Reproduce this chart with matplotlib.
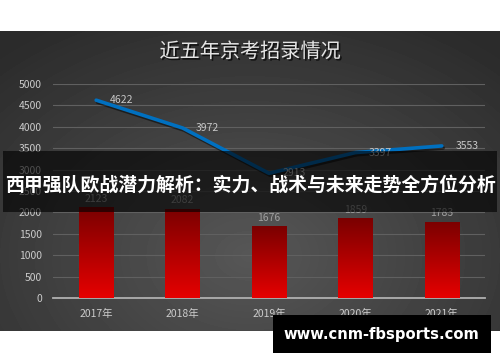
import numpy as np
import matplotlib.pyplot as plt
import matplotlib.patheffects as pe
from matplotlib.patches import Rectangle
from matplotlib.colors import LinearSegmentedColormap

plt.rcParams['font.family'] = ['Noto Sans CJK SC', 'DejaVu Sans']

# 数据
years = ['2017年', '2018年', '2019年', '2020年', '2021年']
recruit = [2123, 2082, 1676, 1859, 1783]
applicants = [4622, 3972, 2913, 3397, 3553]
yticks = [0, 500, 1000, 1500, 2000, 2500, 3000, 3500, 4000, 4500, 5000]

banner = '西甲强队欧战潜力解析：实力、战术与未来走势全方位分析'
site = 'www.cnm-fbsports.com'

W, H = 500, 362
fig = plt.figure(figsize=(W / 100, H / 100), dpi=100)
fig.patch.set_facecolor('white')

# 深色背景（径向渐变）
bg = fig.add_axes([0, (H - 331) / H, 1, 300 / H])
yy, xx = np.mgrid[0:1:300j, 0:1:500j]
r = np.sqrt(((xx - 0.5) / 0.75) ** 2 + ((yy - 0.75) / 0.9) ** 2)
shade = 0.34 - 0.17 * np.clip(r, 0, 1)
bg.imshow(shade, cmap='gray', vmin=0, vmax=1, aspect='auto', extent=[0, 1, 0, 1])
bg.set_axis_off()

# 标题
bg.text(0.5, 1 - 21 / 300, '近五年京考招录情况', ha='center', va='center',
        fontsize=14.5, color='#e6e6e6', transform=bg.transAxes,
        path_effects=[pe.withSimplePatchShadow(offset=(1.2, -1.2), shadow_rgbFace='black', alpha=0.7)])

ax = fig.add_axes([53 / W, (H - 298) / H, 432 / W, 214 / H])
ax.set_facecolor('none')
x = np.arange(len(years))

# 柱子（红色渐变）
bars = ax.bar(x, recruit, width=0.4, color='#c00000', zorder=2)
grad = np.linspace(0, 1, 256).reshape(-1, 1)
cm = LinearSegmentedColormap.from_list('red', ['#e60000', '#7a0000'])
for b in bars:
    bx, by, bw, bh = b.get_x(), b.get_y(), b.get_width(), b.get_height()
    im = ax.imshow(grad, cmap=cm, aspect='auto', origin='lower',
                   extent=[bx, bx + bw, by, by + bh], zorder=3)
    im.set_clip_path(b)

for xi, v in zip(x, recruit):
    ax.text(xi, v + 80, str(v), ha='center', va='bottom', fontsize=7.5,
            color='#a0a0a0', zorder=5)

# 折线
ax.plot(x, applicants, color='#0070c0', lw=2.6, zorder=4, solid_capstyle='round',
        path_effects=[pe.SimpleLineShadow(offset=(1, -1.5), shadow_color='black', alpha=0.5), pe.Normal()])
for xi, v in zip(x, applicants):
    ax.text(xi + 0.29, v, str(v), ha='center', va='center', fontsize=7.5,
            color='#c8c8c8', zorder=5)

ax.set_xlim(-0.5, len(years) - 0.5)
ax.set_ylim(0, 5000)
ax.set_yticks(yticks)
ax.set_xticks(x)
ax.set_xticklabels(years)
ax.grid(axis='y', color='#606060', lw=0.8, zorder=0)
ax.tick_params(length=0, colors='#cccccc', labelsize=7.5)
ax.tick_params(axis='x', pad=8)
ax.tick_params(axis='y', pad=8)
for s in ['top', 'right', 'left']:
    ax.spines[s].set_visible(False)
ax.spines['bottom'].set_color('#b0b0b0')
ax.spines['bottom'].set_linewidth(1.3)

# 覆盖横幅
fig.patches.append(Rectangle((3 / W, (H - 212) / H), 494 / W, 61 / H,
                             transform=fig.transFigure, facecolor='black',
                             alpha=0.62, zorder=10))
fig.text(0.5, (H - 185) / H, banner, ha='center', va='center', fontsize=13.6,
         fontweight='bold', color='white', zorder=11)

# 网址水印
fig.patches.append(Rectangle((273 / W, (H - 353) / H), 218 / W, 38 / H,
                             transform=fig.transFigure, facecolor='black', zorder=10))
fig.text(381 / W, (H - 334) / H, site, ha='center', va='center', fontsize=10.6,
         fontweight='bold', color='white', family='DejaVu Sans', zorder=11)

plt.savefig('out.png', dpi=100)
